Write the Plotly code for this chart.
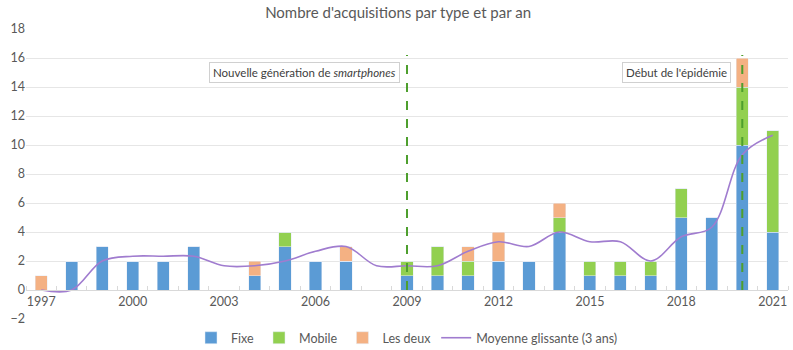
import plotly.graph_objects as go

years = list(range(1997, 2022))
fixe = [0, 2, 3, 2, 2, 3, 0, 1, 3, 2, 2, 0, 1, 1, 1, 2, 2, 4, 1, 1, 1, 5, 5, 10, 4]
mobile = [0, 0, 0, 0, 0, 0, 0, 0, 1, 0, 0, 0, 1, 2, 1, 0, 0, 1, 1, 1, 1, 2, 0, 4, 7]
les_deux = [1, 0, 0, 0, 0, 0, 0, 1, 0, 0, 1, 0, 0, 0, 1, 2, 0, 1, 0, 0, 0, 0, 0, 2, 0]
moyenne = [0, 0, 2.0, 2.33, 2.33, 2.33, 1.67, 1.67, 2.0, 2.67, 3.0, 1.67, 1.67, 1.67,
           2.67, 3.33, 3.0, 4.0, 3.33, 3.33, 2.0, 3.67, 4.33, 9.33, 10.67]
event_years = [2009, 2020]
event_labels = ["Nouvelle génération de <i>smartphones</i>", "Début de l'épidémie"]

FONT = "Lato"
GREY = "#595959"

fig = go.Figure()
fig.add_trace(go.Bar(x=years, y=fixe, name="Fixe", marker_color="#5B9BD5"))
fig.add_trace(go.Bar(x=years, y=mobile, name="Mobile", marker_color="#92D050"))
fig.add_trace(go.Bar(x=years, y=les_deux, name="Les deux", marker_color="#F4B183"))
fig.add_trace(go.Scatter(x=years, y=moyenne, name="Moyenne glissante (3 ans)", mode="lines",
                         line=dict(color="#A07CCF", width=1.6, shape="spline", smoothing=1.0)))

for yr in event_years:
    fig.add_shape(type="line", x0=yr, x1=yr, y0=0, y1=16.2, xref="x", yref="y",
                  line=dict(color="#4E9F2E", width=2, dash="dash"), layer="above")

ann_x = [2005.65, 2017.84]
for x, t in zip(ann_x, event_labels):
    fig.add_annotation(x=x, y=15.0, xref="x", yref="y", text=t, showarrow=False,
                       font=dict(family=FONT, size=11.5, color="#404040"),
                       bgcolor="white", bordercolor="#D0D0D0", borderwidth=1, borderpad=3)

fig.update_layout(
    width=793, height=350,
    margin=dict(l=26, r=5, t=29, b=31, autoexpand=False),
    paper_bgcolor="white", plot_bgcolor="white",
    barmode="stack", bargap=0.6,
    title=dict(text="Nombre d'acquisitions par type et par an", x=0.502, xanchor="center",
               y=0.965, yanchor="middle",
               font=dict(family=FONT, size=15, color=GREY)),
    font=dict(family=FONT, size=12, color=GREY),
    legend=dict(orientation="h", x=0.5, xanchor="center", y=0.034, yanchor="middle",
                yref="container",
                font=dict(family=FONT, size=12.5, color=GREY), itemwidth=30,
                traceorder="normal"),
    showlegend=True,
)
fig.update_xaxes(
    range=[1996.5, 2021.5], tickmode="linear", tick0=1997, dtick=3,
    anchor="free", position=0.1, showgrid=False, zeroline=False,
    showline=True, linecolor="#D9D9D9", linewidth=1,
    ticks="", tickfont=dict(family=FONT, size=12.5, color=GREY),
    minor=dict(ticks="inside", ticklen=4, tick0=1996.5, dtick=1, tickcolor="#D9D9D9", showgrid=False),
)
fig.update_yaxes(
    range=[-2, 18], dtick=2, tick0=0, showgrid=True, gridcolor="#E6E6E6", gridwidth=1,
    zeroline=False, showline=False, ticks="",
    tickfont=dict(family=FONT, size=12.5, color=GREY),
)

fig.write_html("out.html")
